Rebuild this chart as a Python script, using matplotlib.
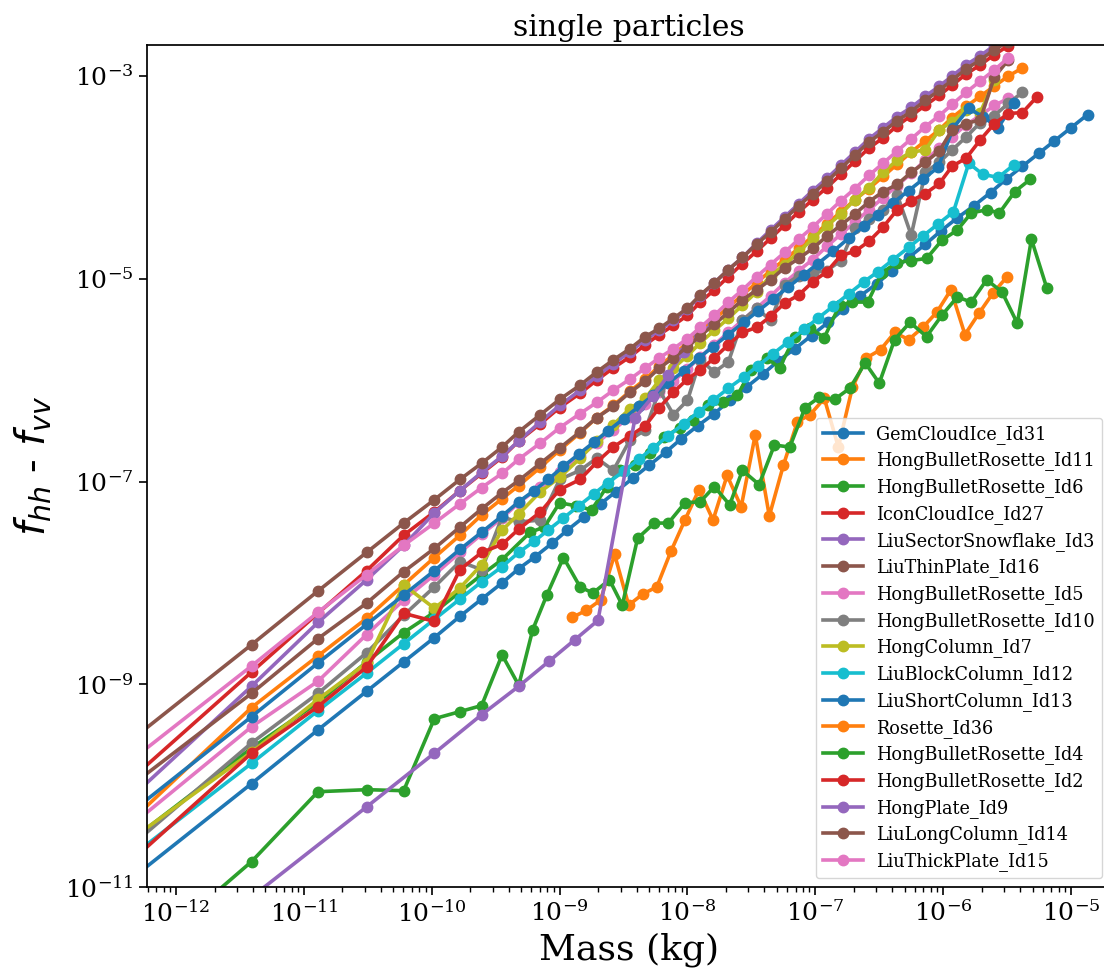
import numpy as np
import matplotlib
matplotlib.use('Agg')
import matplotlib.pyplot as plt
from matplotlib.ticker import LogLocator, NullLocator

# log10 of particle mass (kg) for the size grids
log_mass_top = [-12.32, -11.41, -10.89, -10.51, -10.22, -9.98, -9.78, -9.61, -9.45, -9.32,
                -9.15, -9.00, -8.84, -8.71, -8.58, -8.45, -8.33, -8.22, -8.11, -8.00,
                -7.90, -7.79, -7.68, -7.57, -7.46, -7.35, -7.24, -7.13, -7.02, -6.91,
                -6.80, -6.69, -6.58, -6.47, -6.36, -6.25, -6.14, -6.03, -5.93, -5.82,
                -5.71, -5.60, -5.49, -5.38, -5.27]
log_mass_gem = [-12.32, -11.41, -10.89, -10.51, -10.22, -9.98, -9.78, -9.61, -9.45, -9.32,
                -9.19, -9.06, -8.94, -8.81, -8.68, -8.56, -8.43, -8.30, -8.17, -8.05,
                -7.92, -7.79, -7.67, -7.54, -7.41, -7.29, -7.16, -7.03, -6.90, -6.78,
                -6.65, -6.52, -6.40, -6.27, -6.14, -6.02, -5.89, -5.76, -5.63, -5.51,
                -5.38, -5.25, -5.13, -5.00, -4.87]
log_mass_col = [-12.32, -11.41, -10.89, -10.51, -10.22, -9.98, -9.78, -9.61, -9.45, -9.32,
                -9.20, -9.09, -8.97, -8.85, -8.73, -8.62, -8.50, -8.38, -8.27, -8.15,
                -8.03, -7.91, -7.80, -7.68, -7.56, -7.45, -7.33, -7.21, -7.09, -6.98,
                -6.86, -6.74, -6.62, -6.51, -6.39, -6.27, -6.16, -6.04, -5.92, -5.80,
                -5.69, -5.57, -5.45]
log_mass_br6 = [-12.32, -11.41, -10.89, -10.51, -10.22, -9.98, -9.78, -9.61, -9.45,
                -9.23, -9.12, -9.00, -8.87, -8.75, -8.63, -8.53, -8.41, -8.29, -8.18,
                -8.06, -7.96, -7.84, -7.72, -7.61, -7.50, -7.38, -7.28, -7.16, -7.04,
                -6.93, -6.81, -6.71, -6.59, -6.48, -6.36, -6.25, -6.13, -6.01, -5.89,
                -5.78, -5.66, -5.56, -5.44, -5.32]
log_mass_br4 = [-12.32, -11.41, -10.89, -10.51, -10.22, -9.98, -9.78, -9.61, -9.45, -9.32,
                -9.21, -9.10, -8.97, -8.84, -8.74, -8.61, -8.51, -8.39, -8.26, -8.15,
                -8.02, -7.90, -7.79, -7.67, -7.57, -7.44, -7.32, -7.20, -7.08, -6.97,
                -6.85, -6.73, -6.61, -6.50, -6.38, -6.26, -6.13, -6.01, -5.89, -5.78,
                -5.66, -5.54, -5.42, -5.31, -5.19]
log_mass_ros36 = [-8.90, -8.79, -8.68, -8.57, -8.46, -8.35, -8.24, -8.13, -8.02, -7.91,
                  -7.80, -7.69, -7.58, -7.47, -7.36, -7.25, -7.14, -7.04, -6.93, -6.82,
                  -6.71, -6.60, -6.49, -6.38, -6.27, -6.16, -6.05, -5.94, -5.83, -5.72,
                  -5.61, -5.50]
log_mass_plate9 = [-11.41, -10.51, -9.98, -9.61, -9.32, -9.08, -8.88, -8.70, -8.41, -8.27,
                   -8.15, -8.03, -7.91, -7.80]

# log10 of f_hh - f_vv for each habit
gem31 = [-10.89, -9.98, -9.45, -9.07, -8.78, -8.54, -8.33, -8.16, -8.00, -7.86,
         -7.74, -7.61, -7.48, -7.35, -7.22, -7.10, -6.97, -6.84, -6.71, -6.58,
         -6.45, -6.33, -6.20, -6.07, -5.94, -5.81, -5.69, -5.56, -5.43, -5.30,
         -5.17, -5.05, -4.92, -4.79, -4.66, -4.53, -4.40, -4.28, -4.15, -4.02,
         -3.89, -3.76, -3.64, -3.51, -3.38]
br11 = [-10.31, -9.23, -8.72, -8.35, -8.02, -7.75, -7.53, -7.33, -7.17, -7.04,
        -6.86, -6.69, -6.52, -6.37, -6.25, -6.11, -5.99, -5.86, -5.75, -5.63,
        -5.52, -5.40, -5.28, -5.16, -5.04, -4.92, -4.81, -4.70, -4.58, -4.46,
        -4.34, -4.22, -4.11, -3.99, -3.87, -3.75, -3.64, -3.53, -3.41, -3.30,
        -3.20, -3.10, -3.00, -2.92]
br6 = [-10.51, -9.63, -9.18, -8.78, -8.49, -8.29, -8.09, -7.92, -7.77,
       -7.50, -7.45, -7.21, -7.24, -7.28, -7.05, -6.89, -6.84, -6.72, -6.56,
       -6.47, -6.39, -6.25, -6.22, -6.15, -5.90, -5.78, -5.88, -5.57, -5.49,
       -5.58, -5.26, -5.23, -5.23, -4.94, -4.84, -4.82, -4.80, -4.62, -4.52,
       -4.35, -4.32, -4.35, -4.14, -4.02]
icon27 = [-9.90, -8.88, -8.30, -7.88, -7.53, -7.30, -7.09, -6.92, -6.76, -6.60,
          -6.43, -6.27, -6.13, -6.00, -5.88, -5.77, -5.65, -5.55, -5.46, -5.36,
          -5.23, -5.11, -4.98, -4.85, -4.73, -4.60, -4.47, -4.34, -4.22, -4.10,
          -3.97, -3.84, -3.71, -3.61, -3.49, -3.39, -3.29, -3.19, -3.09, -2.98,
          -2.89, -2.79, -2.70]
sector3 = [-10.08, -9.02, -8.39, -7.97, -7.63, -7.31, -7.09, -6.91, -6.75, -6.60,
           -6.41, -6.25, -6.10, -5.96, -5.84, -5.72, -5.60, -5.51, -5.41, -5.30,
           -5.17, -5.04, -4.91, -4.79, -4.65, -4.52, -4.39, -4.26, -4.13, -4.01,
           -3.88, -3.75, -3.62, -3.51, -3.40, -3.31, -3.20, -3.10, -3.00, -2.89,
           -2.80, -2.70, -2.62]
thin16 = [-9.52, -8.61, -8.08, -7.70, -7.41, -7.18, -6.98, -6.82, -6.66, -6.51,
          -6.34, -6.19, -6.05, -5.92, -5.80, -5.69, -5.57, -5.49, -5.39, -5.29,
          -5.16, -5.04, -4.91, -4.79, -4.66, -4.54, -4.41, -4.28, -4.16, -4.04,
          -3.91, -3.78, -3.65, -3.55, -3.44, -3.35, -3.24, -3.14, -3.04, -2.93,
          -2.84, -2.74, -2.66]
br5 = [-10.36, -9.42, -8.97, -8.51, -8.17, -7.92, -7.70, -7.52, -7.36, -7.21,
       -7.05, -6.91, -6.75, -6.62, -6.49, -6.36, -6.24, -6.12, -6.01, -5.89,
       -5.77, -5.65, -5.53, -5.41, -5.29, -5.17, -5.04, -4.92, -4.81, -4.68,
       -4.56, -4.44, -4.32, -4.20, -4.08, -3.96, -3.83, -3.71, -3.60, -3.48,
       -3.39, -3.29, -3.22]
br10 = [-10.56, -9.58, -9.09, -8.69, -8.32, -8.04, -7.79, -7.87, -7.35, -7.40,
        -7.38, -6.98, -6.89, -6.77, -6.89, -6.59, -6.49, -6.10, -6.34, -6.20,
        -5.80, -5.92, -5.82, -5.41, -5.29, -5.41, -5.06, -4.97, -4.94, -4.92,
        -4.82, -4.50, -4.41, -4.32, -4.17, -4.57, -3.95, -3.85, -3.73, -3.60,
        -3.46, -3.39, -3.27, -3.16]
col7 = [-10.50, -9.67, -9.15, -8.79, -8.02, -8.25, -8.05, -7.82, -7.48, -7.32,
        -7.10, -6.96, -6.77, -6.60, -6.44, -6.28, -6.18, -6.00, -5.88, -5.76,
        -5.63, -5.51, -5.39, -5.26, -5.13, -4.97, -4.86, -4.74, -4.60, -4.48,
        -4.36, -4.22, -4.10, -3.95, -3.83, -3.75, -3.73, -3.53, -3.45, -3.34,
        -3.36, -3.04]
block12 = [-10.67, -9.78, -9.26, -8.89, -8.60, -8.36, -8.16, -7.99, -7.84, -7.70,
           -7.59, -7.48, -7.36, -7.24, -7.12, -7.01, -6.90, -6.78, -6.67, -6.55,
           -6.43, -6.31, -6.20, -6.08, -5.97, -5.86, -5.74, -5.62, -5.50, -5.39,
           -5.27, -5.15, -5.03, -4.93, -4.81, -4.69, -4.58, -4.46, -4.34, -3.86,
           -3.97, -4.00, -3.88]
short13 = [-10.23, -9.32, -8.79, -8.41, -8.12, -7.88, -7.67, -7.50, -7.34, -7.20,
           -7.09, -6.98, -6.85, -6.73, -6.61, -6.50, -6.38, -6.26, -6.15, -6.03,
           -5.91, -5.78, -5.67, -5.55, -5.43, -5.32, -5.20, -5.08, -4.96, -4.85,
           -4.73, -4.60, -4.48, -4.37, -4.25, -4.13, -4.02, -3.90, -3.51, -3.32,
           -3.40, -3.51, -3.27]
ros36 = [-8.34, -8.27, -8.17, -7.72, -8.22, -8.11, -8.04, -7.69, -7.38, -7.08,
         -7.38, -6.94, -7.25, -6.54, -7.34, -6.84, -6.41, -6.34, -6.18, -6.66,
         -6.07, -5.78, -5.70, -5.53, -5.60, -5.48, -5.33, -5.11, -5.55, -5.34,
         -5.14, -4.98]
br4 = [-11.74, -10.75, -10.06, -10.04, -10.05, -9.34, -9.27, -9.21, -8.71, -9.01,
       -8.46, -8.12, -7.75, -8.04, -8.10, -7.97, -8.22, -7.56, -7.41, -7.41,
       -7.21, -7.20, -7.05, -7.23, -6.89, -7.03, -6.64, -6.66, -6.27, -6.17,
       -6.19, -6.08, -5.83, -6.03, -5.60, -5.43, -5.57, -5.36, -5.18, -5.23,
       -5.01, -5.13, -5.44, -4.61, -5.09]
br2 = [-10.71, -9.68, -9.22, -8.83, -8.30, -8.38, -7.87, -7.70, -7.62, -7.47,
       -7.30, -7.08, -6.98, -6.81, -6.66, -6.55, -6.45, -6.27, -6.12, -5.99,
       -5.90, -5.78, -5.65, -5.53, -5.48, -5.37, -5.24, -5.16, -5.03, -4.93,
       -4.77, -4.73, -4.63, -4.49, -4.32, -4.23, -4.16, -4.06, -3.89, -3.81,
       -3.63, -3.47, -3.37, -3.36, -3.21]
plate9 = [-11.10, -10.21, -9.68, -9.30, -9.02, -8.77, -8.56, -8.37, -6.37, -6.16,
          -5.95, -5.72, -5.56, -5.44]
long14 = [-9.97, -9.09, -8.55, -8.20, -7.89, -7.66, -7.45, -7.27, -7.11, -6.99,
          -6.82, -6.67, -6.51, -6.37, -6.26, -6.12, -6.01, -5.88, -5.78, -5.67,
          -5.56, -5.45, -5.33, -5.21, -5.11, -5.01, -4.89, -4.80, -4.70, -4.58,
          -4.47, -4.36, -4.24, -4.14, -4.07, -3.95, -3.85, -3.74, -3.53, -3.47,
          -3.43, -3.01, -2.84]
thick15 = [-9.72, -8.82, -8.29, -7.92, -7.63, -7.41, -7.22, -7.06, -6.92, -6.78,
           -6.62, -6.47, -6.33, -6.22, -6.10, -5.99, -5.88, -5.78, -5.69, -5.59,
           -5.48, -5.36, -5.23, -5.11, -4.98, -4.86, -4.74, -4.61, -4.49, -4.36,
           -4.23, -4.11, -3.98, -3.86, -3.74, -3.62, -3.50, -3.39, -3.28, -3.16,
           -3.05, -2.94, -2.82]

series = [
    ('GemCloudIce_Id31', log_mass_gem, gem31),
    ('HongBulletRosette_Id11', log_mass_top, br11),
    ('HongBulletRosette_Id6', log_mass_br6, br6),
    ('IconCloudIce_Id27', log_mass_top, icon27),
    ('LiuSectorSnowflake_Id3', log_mass_top, sector3),
    ('LiuThinPlate_Id16', log_mass_top, thin16),
    ('HongBulletRosette_Id5', log_mass_top, br5),
    ('HongBulletRosette_Id10', log_mass_top, br10),
    ('HongColumn_Id7', log_mass_top, col7),
    ('LiuBlockColumn_Id12', log_mass_col, block12),
    ('LiuShortColumn_Id13', log_mass_col, short13),
    ('Rosette_Id36', log_mass_ros36, ros36),
    ('HongBulletRosette_Id4', log_mass_br4, br4),
    ('HongBulletRosette_Id2', log_mass_top, br2),
    ('HongPlate_Id9', log_mass_plate9, plate9),
    ('LiuLongColumn_Id14', log_mass_top, long14),
    ('LiuThickPlate_Id15', log_mass_top, thick15),
]

plt.rcParams['font.family'] = 'serif'
plt.rcParams['font.serif'] = ['DejaVu Serif']

fig = plt.figure(figsize=(11.04, 9.76), dpi=100)
ax = fig.add_axes([0.1332, 0.0912, 0.8732, 0.8632])

for name, lm, lf in series:
    x = 10 ** np.array(lm[:len(lf)])
    y = 10 ** np.array(lf)
    ax.plot(x, y, marker='o', lw=2.6, ms=7.5, label=name)

ax.set_xscale('log')
ax.set_yscale('log')
ax.set_xlim(10 ** -12.227, 10 ** -4.687)
ax.set_ylim(1e-11, 10 ** -2.689)
ax.set_xticks([1e-12, 1e-11, 1e-10, 1e-9, 1e-8, 1e-7, 1e-6, 1e-5])
ax.set_yticks([1e-11, 1e-9, 1e-7, 1e-5, 1e-3])
ax.yaxis.set_minor_locator(NullLocator())
ax.xaxis.set_minor_locator(LogLocator(base=10, subs=np.arange(2, 10), numticks=20))

ax.tick_params(which='major', labelsize=18, length=6, width=1.2)
ax.tick_params(which='minor', length=3.5, width=1.0)
for sp in ax.spines.values():
    sp.set_linewidth(1.25)

ax.set_title('single particles', fontsize=21.5)
ax.set_xlabel('Mass (kg)', fontsize=26)
ax.set_ylabel('$f_{hh}$ - $f_{vv}$', fontsize=29, labelpad=8)
ax.legend(loc='lower right', fontsize=12.7, labelspacing=0.44,
          handlelength=2.3, handletextpad=0.75)

fig.savefig('out.png', dpi=100)
